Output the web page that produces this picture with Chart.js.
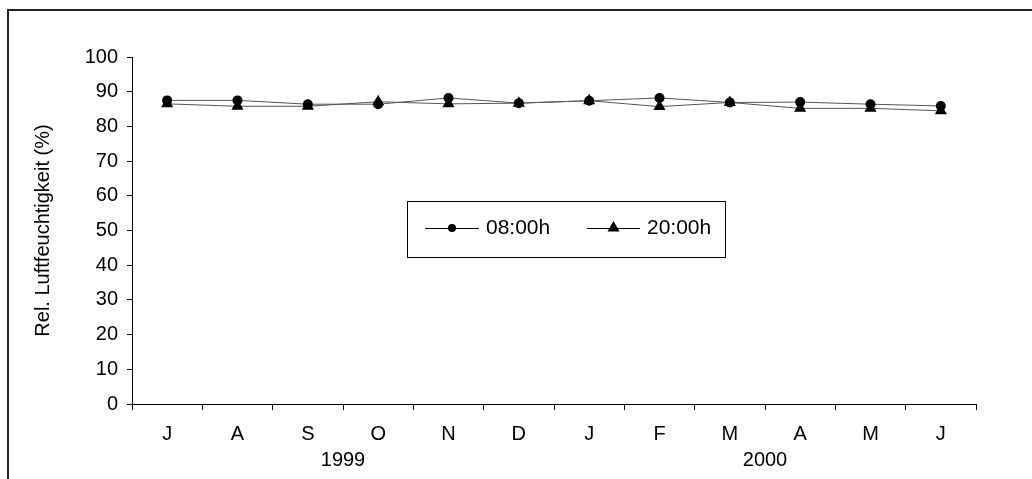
<!DOCTYPE html>
<html>
<head>
<meta charset="utf-8">
<script src="https://cdn.jsdelivr.net/npm/chart.js@4"></script>
<style>
  html, body { margin: 0; padding: 0; background: #fff; }
  #wrap { width: 1032px; height: 479px; position: relative; }
</style>
</head>
<body>
<div id="wrap"><canvas id="humidityChart" width="1032" height="479"></canvas></div>
<script>
const months = ["J", "A", "S", "O", "N", "D", "J", "F", "M", "A", "M", "J"];
const years = ["1999", "2000"];
const yearFirstIndex = [0, 6];
const morning = [87.5, 87.5, 86.4, 86.4, 88.2, 86.7, 87.4, 88.2, 86.9, 87.0, 86.4, 85.9];
const evening = [86.5, 85.8, 85.8, 87.1, 86.5, 86.7, 87.4, 85.7, 86.9, 85.2, 85.2, 84.5];
const yTicks = [0, 10, 20, 30, 40, 50, 60, 70, 80, 90, 100];

const FONT = "'Liberation Sans', Arial, sans-serif";
const SIZE = 20;
Chart.defaults.font.family = FONT;
Chart.defaults.color = "#000";

// outer frame, year row and the boxed legend are drawn here
const extras = {
  id: "extras",
  afterDraw(chart) {
    const ctx = chart.ctx;
    const x = chart.scales.x;
    ctx.save();

    ctx.strokeStyle = "#222";
    ctx.lineWidth = 2;
    ctx.beginPath();
    ctx.moveTo(8, 479);
    ctx.lineTo(8, 10);
    ctx.lineTo(1032, 10);
    ctx.stroke();

    ctx.fillStyle = "#000";
    ctx.font = SIZE + "px " + FONT;
    ctx.textAlign = "center";
    ctx.textBaseline = "middle";
    years.forEach((year, i) => {
      const first = yearFirstIndex[i];
      const last = i + 1 < yearFirstIndex.length ? yearFirstIndex[i + 1] - 1 : months.length - 1;
      const cx = (x.getPixelForValue(first) + x.getPixelForValue(last)) / 2;
      ctx.fillText(year, cx, 460);
    });

    // legend
    ctx.fillStyle = "#fff";
    ctx.fillRect(407, 201, 318, 56);
    ctx.strokeStyle = "#000";
    ctx.lineWidth = 1;
    ctx.strokeRect(407.5, 201.5, 318, 56);
    const items = [
      { x0: 425, x1: 479, tx: 486 },
      { x0: 587, x1: 640, tx: 647 },
    ];
    ctx.font = "21px " + FONT;
    chart.data.datasets.forEach((ds, i) => {
      const it = items[i];
      const cy = 228;
      ctx.strokeStyle = "#000";
      ctx.lineWidth = 1;
      ctx.beginPath();
      ctx.moveTo(it.x0, cy + 0.5);
      ctx.lineTo(it.x1, cy + 0.5);
      ctx.stroke();
      ctx.fillStyle = "#000";
      Chart.helpers.drawPoint(ctx, {
        pointStyle: ds.pointStyle,
        radius: ds.pointStyle === "triangle" ? 7 : 4,
        borderWidth: 0,
      }, (it.x0 + it.x1) / 2, cy);
      ctx.textAlign = "left";
      ctx.fillText(ds.label, it.tx, cy);
    });
    ctx.restore();
  },
};

new Chart(document.getElementById("humidityChart"), {
  type: "line",
  data: {
    labels: months,
    datasets: [
      {
        label: "08:00h",
        data: morning,
        borderColor: "#555",
        borderWidth: 1,
        pointStyle: "circle",
        pointRadius: 5,
        pointBackgroundColor: "#000",
        pointBorderColor: "#000",
        pointBorderWidth: 0,
        tension: 0,
      },
      {
        label: "20:00h",
        data: evening,
        borderColor: "#555",
        borderWidth: 1,
        pointStyle: "triangle",
        pointRadius: 7,
        pointBackgroundColor: "#000",
        pointBorderColor: "#000",
        pointBorderWidth: 0,
        tension: 0,
      },
    ],
  },
  options: {
    responsive: false,
    animation: false,
    layout: { padding: { left: 0, top: 57, right: 56, bottom: 0 } },
    plugins: {
      legend: { display: false },
      tooltip: { enabled: false },
    },
    scales: {
      x: {
        type: "category",
        offset: true,
        grid: { offset: true, drawOnChartArea: false, tickLength: 6, color: "#000" },
        border: { color: "#000", width: 1 },
        ticks: { font: { size: SIZE }, padding: 12, maxRotation: 0, autoSkip: false },
        afterFit(scale) { scale.height = 75; },
      },
      y: {
        min: 0,
        max: 100,
        afterBuildTicks(scale) { scale.ticks = yTicks.map((v) => ({ value: v })); },
        grid: { drawOnChartArea: false, tickLength: 5, color: "#000" },
        border: { color: "#000", width: 1 },
        ticks: { font: { size: SIZE }, padding: 9 },
        title: {
          display: true,
          text: "Rel. Luftfeuchtigkeit (%)",
          font: { size: SIZE },
          padding: { top: 31, bottom: 0 },
        },
        afterFit(scale) { scale.width = 132; },
      },
    },
  },
  plugins: [extras],
});
</script>
</body>
</html>
